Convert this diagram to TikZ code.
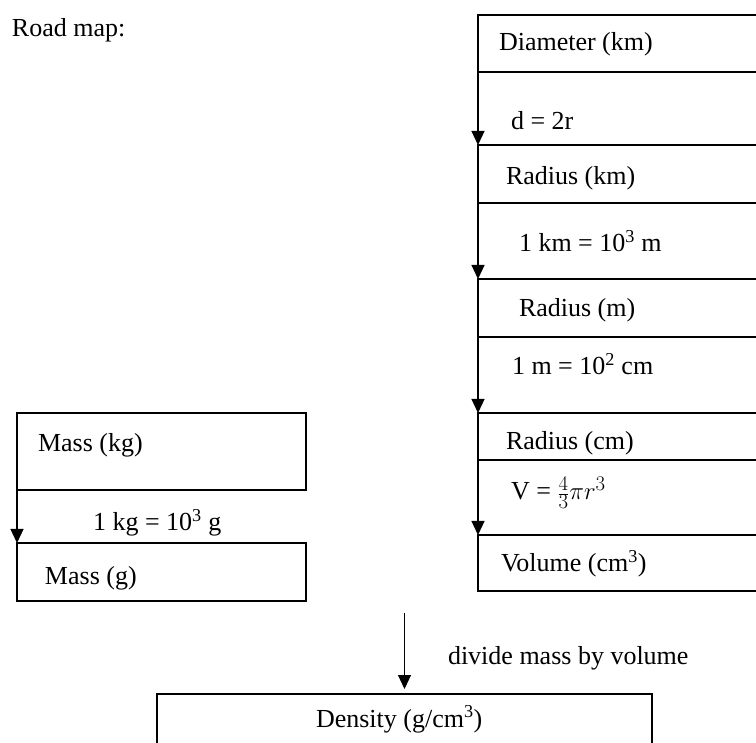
\documentclass[tikz,border=0pt]{standalone}
\usepackage{fontspec}
\setmainfont{Liberation Serif}
\usetikzlibrary{arrows.meta}
\begin{document}
\begin{tikzpicture}[x=1pt,y=-1pt,
  box/.style={draw, line width=1.4pt, rectangle, anchor=north west, inner sep=0pt, outer sep=0pt},
  txt/.style={anchor=base west, inner sep=0pt, outer sep=0pt, font=\fontsize{26}{31}\selectfont},
  arr/.style={-{Triangle[width=13pt,length=14pt]}, line width=1.2pt}]
\useasboundingbox (0,0) rectangle (756,743);
\clip (0,0) rectangle (756,743);
% right column boxes
\node[box, minimum width=330, minimum height=57] (diam) at (478,15) {};
\node[box, minimum width=330, minimum height=58] (radkm) at (478,145) {};
\node[box, minimum width=330, minimum height=58] (radm) at (478,279) {};
\node[box, minimum width=330, minimum height=47] (radcm) at (478,413) {};
\node[box, minimum width=330, minimum height=56] (vol) at (478,535) {};
% left column
\node[box, minimum width=289, minimum height=77] (masskg) at (17,413) {};
\node[box, minimum width=289, minimum height=58] (massg) at (17,543) {};
% density
\node[box, minimum width=495, minimum height=90] (density) at (157,694) {};
% texts
\node[txt] (title) at (12,37) {Road map:};
\node[txt] (tdiam) at (499,51) {Diameter (km)};
\node[txt] (tdr) at (511,130) {d = 2r};
\node[txt] (tradkm) at (506,185) {Radius (km)};
\node[txt] (tkm) at (519,252) {1 km = 10\textsuperscript{3} m};
\node[txt] (tradm) at (519,317) {Radius (m)};
\node[txt] (tm) at (512,375) {1 m = 10\textsuperscript{2} cm};
\node[txt] (tradcm) at (506,450) {Radius (cm)};
\node[txt] (tv) at (511,500) {V = {\fontsize{28}{33}\selectfont$\frac{4}{3}\pi r^{3}$}};
\node[txt] (tvol) at (501,572) {Volume (cm\textsuperscript{3})};
\node[txt] (tmasskg) at (38,452) {Mass (kg)};
\node[txt] (tkg) at (93,531) {1 kg = 10\textsuperscript{3} g};
\node[txt] (tmassg) at (45,584) {Mass (g)};
\node[txt] (tdiv) at (448,664) {divide mass by volume};
\node[txt] (tdens) at (316,727) {Density (g/cm\textsuperscript{3})};
% connectors
\draw[arr] (diam.south west) -- (radkm.north west);
\draw[arr] (radkm.south west) -- (radm.north west);
\draw[arr] (radm.south west) -- (radcm.north west);
\draw[arr] (radcm.south west) -- (vol.north west);
\coordinate (mstart) at (17,467);
\draw[arr] (mstart) -- (massg.north west);
\coordinate (dstart) at (404.5,613);
\draw[arr, shorten >=5pt] (dstart) -- (density.north);
\end{tikzpicture}
\end{document}
